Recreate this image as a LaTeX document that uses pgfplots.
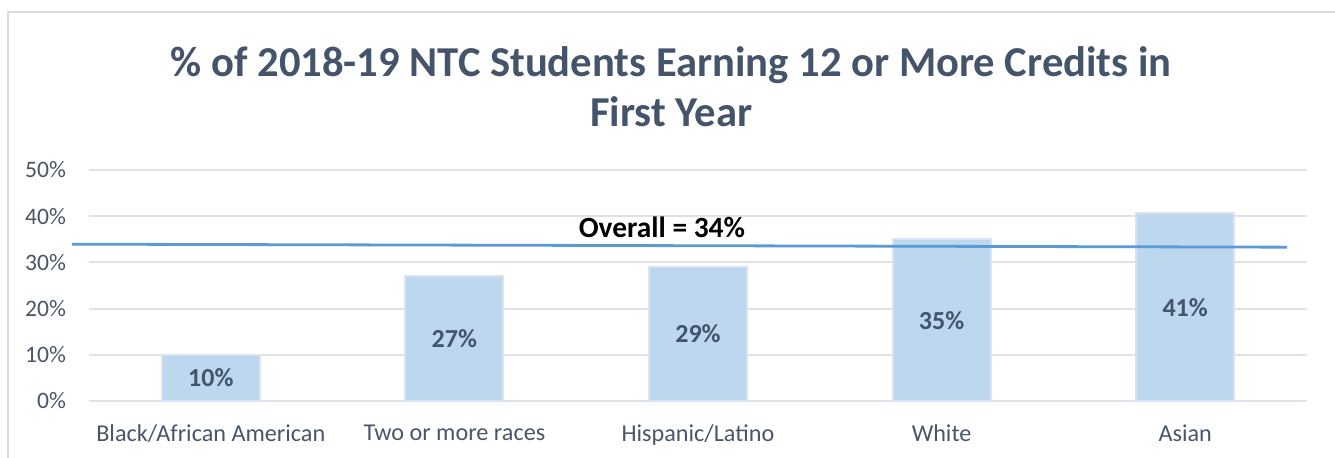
\documentclass[border=0pt]{standalone}
\usepackage{pgfplots}
\pgfplotsset{compat=1.18}
\usepackage{pgfplotstable}
\usepackage{fontspec}
\setmainfont{Carlito}

\definecolor{titlecol}{HTML}{44546A}
\definecolor{tickcol}{HTML}{4A5568}
\definecolor{barfill}{HTML}{BDD7EE}
\definecolor{bardraw}{HTML}{DAE3F3}
\definecolor{gridcol}{HTML}{DEE2E8}
\definecolor{linecol}{HTML}{5B9BD5}
\definecolor{framecol}{HTML}{DADDE2}

\pgfplotstableread{
x val mid lab
0 10   5.0  10\%
1 27  13.5  27\%
2 29  14.5  29\%
3 35  17.5  35\%
4 40.6 20.3 41\%
}\ratedata

\begin{document}
\begin{tikzpicture}
\begin{axis}[
  scale only axis, width=609pt, height=115.5pt,
  xmin=-0.5, xmax=4.5, ymin=0, ymax=50,
  clip=false,
  axis x line=none, axis y line=left, y axis line style={draw=none},
  ytick={0,10,20,30,40,50},
  yticklabel={\pgfmathprintnumber{\tick}\%},
  ymajorgrids, grid style={gridcol, line width=1pt},
  major tick length=0pt,
  yticklabel style={text=tickcol, font=\fontsize{11.8}{13}\selectfont, xshift=-8pt},
  /pgf/number format/assume math mode=true,
]
\addplot[ybar, bar width=49pt, fill=barfill, draw=bardraw, line width=1pt]
  table[x=x, y=val] {\ratedata};
\addplot[linecol, line width=1.4pt] coordinates {(-0.57,33.95) (4.418,33.3)};
\addplot[only marks, mark=none, nodes near coords, point meta=explicit symbolic,
  nodes near coords style={anchor=center, text=titlecol, font=\bfseries\fontsize{13}{15}\selectfont}]
  table[x=x, y=mid, meta=lab] {\ratedata};
\node[anchor=north, text=tickcol, font=\fontsize{12.1}{14}\selectfont] at ([yshift=-8.5pt]axis cs:0,0) {Black/African American};
\node[anchor=north, text=tickcol, font=\fontsize{12.1}{14}\selectfont] at ([yshift=-8.5pt]axis cs:1,0) {Two or more races};
\node[anchor=north, text=tickcol, font=\fontsize{12.1}{14}\selectfont] at ([yshift=-8.5pt]axis cs:2,0) {Hispanic/Latino};
\node[anchor=north, text=tickcol, font=\fontsize{12.1}{14}\selectfont] at ([yshift=-8.5pt]axis cs:3,0) {White};
\node[anchor=north, text=tickcol, font=\fontsize{12.1}{14}\selectfont] at ([yshift=-8.5pt]axis cs:4,0) {Asian};
\node[font=\bfseries\fontsize{14.7}{16}\selectfont] at (axis cs:1.852,37.6) {Overall = 34\%};
\node[align=center, text=titlecol, font=\bfseries\fontsize{21.3}{25}\selectfont] at ([yshift=157pt]axis cs:1.89,0) {\% of 2018-19 NTC Students Earning 12 or More Credits in\\First Year};
\end{axis}
\pgfresetboundingbox
\useasboundingbox ([shift={(-44.5pt,-28pt)}]current axis.south west) rectangle ([shift={(623pt,200.5pt)}]current axis.south west);
\draw[framecol, line width=0.8pt] ([shift={(-40.5pt,-30pt)}]current axis.south west) -- ([shift={(-40.5pt,194.5pt)}]current axis.south west) -- ([shift={(625pt,194.5pt)}]current axis.south west);
\end{tikzpicture}
\end{document}
